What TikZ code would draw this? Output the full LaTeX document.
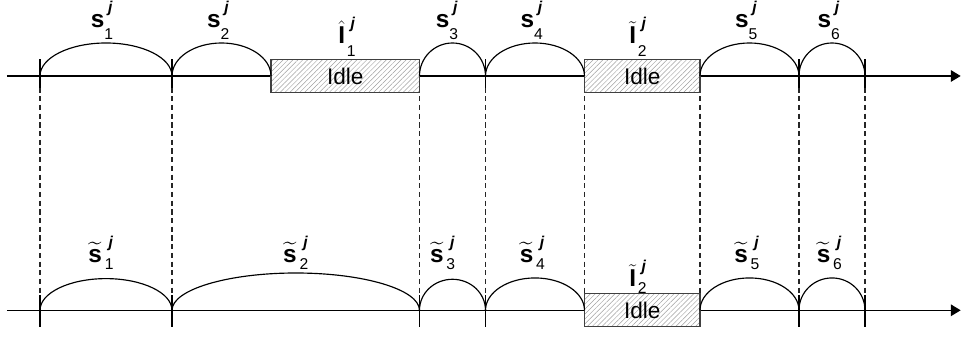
\documentclass[tikz,border=0pt]{standalone}
\usepackage{amsmath}
\usepackage[no-math]{fontspec}
\setmainfont{Liberation Sans}
\usepackage{tikz}
\usetikzlibrary{arrows.meta, patterns.meta}
\definecolor{hatchgray}{HTML}{A0A0A0}
\definecolor{edgegray}{HTML}{404040}

\newcommand{\lblfont}{\fontsize{21}{24}\selectfont}
\newcommand{\scrfont}{\fontsize{13.5}{15}\selectfont}
\newcommand{\idlefont}{\fontsize{19.5}{22}\selectfont}
% base letter with subscript #3 and superscript j
\newcommand{\seglabel}[3][10.5pt]{#2\rlap{\hspace{3.2pt}\raisebox{13pt}{\scrfont\textbf{\textit{j}}}}\raisebox{-#1}{\scrfont #3}}
\newcommand{\tls}{$\widetilde{\text{\textbf{s}}}$\hspace{2.5pt}}

\begin{document}
\begin{tikzpicture}[
    seg/.style={line width=1pt},
    axis/.style={line width=1.1pt, -{Triangle[length=8.5pt, width=10pt]}},
    guide/.style={dash pattern=on 4.5pt off 3pt, line width=0.9pt, black!85},
    tickmark/.style={line width=0.9pt},
    idlebox/.style={draw=edgegray, line width=1.2pt, preaction={fill=white},
      pattern={Lines[angle=45, distance=3pt, line width=0.4pt]}, pattern color=hatchgray,
      minimum height=1cm, inner sep=0pt, font=\idlefont},
    lbl/.style={anchor=base, inner sep=0pt, font=\lblfont}
  ]
  \useasboundingbox (-1.212,-7.94) rectangle (27.94,2.303);

  % Time axes
  \draw[axis] (-1,0) -- (27.9,0);
  \draw[axis] (-1,-7.1) -- (27.9,-7.1);

  % Ticks
  \draw[tickmark] (0,0.5) -- (0,-0.35) (4,0.5) -- (4,-0.35) (11.5,0.5) -- (11.5,-0.35)
    (13.5,0.5) -- (13.5,-0.35) (16.5,0.5) -- (16.5,-0.35) (20,0.5) -- (20,-0.35)
    (23,0.5) -- (23,-0.35) (25,0.5) -- (25,-0.35);
  \draw[tickmark] (0,-6.65) -- (0,-7.6) (4,-6.65) -- (4,-7.6) (11.5,-6.65) -- (11.5,-7.6)
    (13.5,-6.65) -- (13.5,-7.6) (16.5,-6.65) -- (16.5,-7.6) (20,-6.65) -- (20,-7.6)
    (23,-6.65) -- (23,-7.6) (25,-6.65) -- (25,-7.6);

  % Guides between the two schedules
  \draw[guide] (0,-0.35) -- (0,-6.65) (4,-0.35) -- (4,-6.65) (11.5,-0.35) -- (11.5,-6.65)
    (13.5,-0.35) -- (13.5,-6.65) (16.5,-0.35) -- (16.5,-6.65) (20,-0.35) -- (20,-6.65)
    (23,-0.35) -- (23,-6.65) (25,-0.35) -- (25,-6.65);

  % Idle slots
  \node[idlebox, minimum width=4.5cm] (idle1) at (9.25,0) {Idle};
  \node[idlebox, minimum width=3.5cm] (idle2) at (18.25,0) {Idle};
  \node[idlebox, minimum width=3.5cm] (idle3) at (18.25,-7.1) {Idle};

  % Segments, original schedule
  \draw[seg] (0,0) arc[start angle=180, end angle=0, x radius=2, y radius=1];
  \draw[seg] (4,0) arc[start angle=180, end angle=0, x radius=1.5, y radius=1];
  \draw[seg] (11.5,0) arc[start angle=180, end angle=0, x radius=1, y radius=1];
  \draw[seg] (13.5,0) arc[start angle=180, end angle=0, x radius=1.5, y radius=1];
  \draw[seg] (20,0) arc[start angle=180, end angle=0, x radius=1.5, y radius=1];
  \draw[seg] (23,0) arc[start angle=180, end angle=0, x radius=1, y radius=1];

  % Segments, new schedule
  \draw[seg] (0,-7.1) arc[start angle=180, end angle=0, x radius=2, y radius=0.96];
  \draw[seg] (4,-7.1) arc[start angle=180, end angle=0, x radius=3.75, y radius=1.13];
  \draw[seg] (11.5,-7.1) arc[start angle=180, end angle=0, x radius=1, y radius=0.94];
  \draw[seg] (13.5,-7.1) arc[start angle=180, end angle=0, x radius=1.5, y radius=0.98];
  \draw[seg] (20,-7.1) arc[start angle=180, end angle=0, x radius=1.5, y radius=0.98];
  \draw[seg] (23,-7.1) arc[start angle=180, end angle=0, x radius=1, y radius=0.98];

  % Labels, original schedule
  \node[lbl] (s1) at (1.88,1.48) {\seglabel{\textbf{s}}{1}};
  \node[lbl] (s2) at (5.4,1.48) {\seglabel{\textbf{s}}{2}};
  \node[lbl] (s3) at (12.33,1.48) {\seglabel{\textbf{s}}{3}};
  \node[lbl] (s4) at (14.9,1.48) {\seglabel{\textbf{s}}{4}};
  \node[lbl] (s5) at (21.4,1.48) {\seglabel{\textbf{s}}{5}};
  \node[lbl] (s6) at (23.9,1.48) {\seglabel{\textbf{s}}{6}};
  \node[lbl] (i1) at (9.3,0.97) {\seglabel{$\hat{\text{\textbf{I}}}$\hspace{1.5pt}}{1}};
  \node[lbl] (i2) at (18.12,0.97) {\seglabel{$\tilde{\text{\textbf{I}}}$\hspace{1.5pt}}{2}};

  % Labels, new schedule
  \node[lbl] (st1) at (1.85,-5.64) {\seglabel[6pt]{\tls}{1}};
  \node[lbl] (st2) at (7.75,-5.64) {\seglabel[6pt]{\tls}{2}};
  \node[lbl] (st3) at (12.2,-5.64) {\seglabel[6pt]{\tls}{3}};
  \node[lbl] (st4) at (14.92,-5.64) {\seglabel[6pt]{\tls}{4}};
  \node[lbl] (st5) at (21.42,-5.64) {\seglabel[6pt]{\tls}{5}};
  \node[lbl] (st6) at (23.92,-5.64) {\seglabel[6pt]{\tls}{6}};
  \node[lbl] (it2) at (18.12,-6.39) {\seglabel[6pt]{$\tilde{\text{\textbf{I}}}$\hspace{1.5pt}}{2}};
\end{tikzpicture}
\end{document}
